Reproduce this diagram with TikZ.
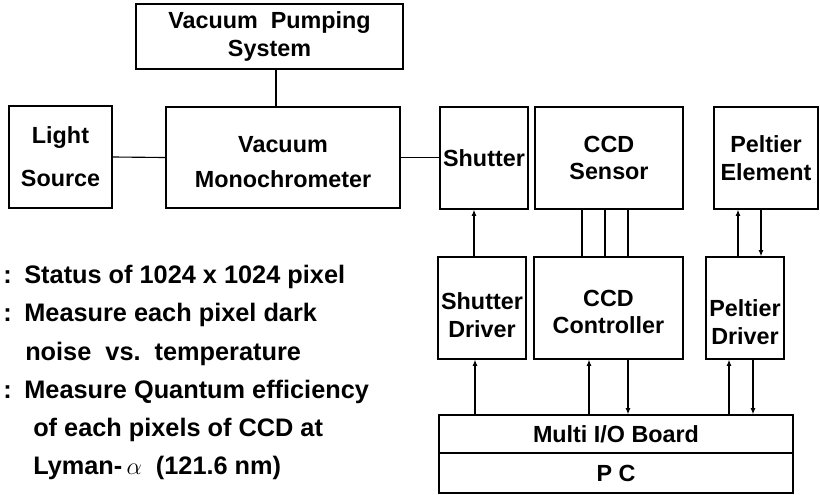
\documentclass[tikz,border=0pt]{standalone}
\usepackage{fontspec}
\setmainfont{Liberation Sans}
\usetikzlibrary{arrows.meta}
\tikzset{
  %% Plain block
  blk/.style={
    rectangle, draw=black, line width=0.9pt,
    align=center, inner sep=0pt,
    font=\fontsize{16.6}{19.5}\selectfont\bfseries
  },
  %% Plain link
  link/.style={draw=black, line width=0.8pt},
  %% Signal arrow
  arr/.style={-{Latex[length=4.5pt,width=3.6pt]},
              draw=black, line width=0.8pt},
  %% Side note line
  note/.style={anchor=base west, inner sep=0pt,
    font=\fontsize{18}{22}\selectfont\bfseries},
}
\newcommand{\lead}{:\hspace{9pt}}

\begin{document}
\begin{tikzpicture}[x=0.025cm, y=-0.025cm]
  \useasboundingbox (0,0) rectangle (820,494);

  %% Optical path
  \node[blk, minimum width=6.675cm, minimum height=1.625cm] (pump) at (269.5,36.5)
       {Vacuum\ \ Pumping\\System};
  \node[blk, minimum width=2.575cm, minimum height=2.55cm]  (light) at (60.5,157)
       {Light\\[11pt]Source};
  \node[blk, minimum width=5.85cm, minimum height=2.525cm]  (mono) at (283,157.5)
       {\rule{0pt}{18pt}Vacuum\\[6pt]Monochrometer};
  \node[blk, minimum width=2.2cm, minimum height=2.55cm]    (shutter) at (484,158)
       {Shutter};
  \node[blk, minimum width=3.7cm, minimum height=2.55cm]    (sensor) at (609,158)
       {CCD\\Sensor};
  \node[blk, minimum width=2.6cm, minimum height=2.55cm]    (peltier) at (766,158)
       {Peltier\\Element};

  %% Drivers
  \node[blk, minimum width=2.2cm, minimum height=2.55cm]    (sdrv) at (482,308)
       {\rule{0pt}{22pt}Shutter\\Driver};
  \node[blk, minimum width=3.725cm, minimum height=2.55cm]  (ctrl) at (608.5,308)
       {\rule{0pt}{17pt}CCD\\Controller};
  \node[blk, minimum width=1.95cm, minimum height=2.55cm]   (pdrv) at (745,308)
       {\rule{0pt}{32pt}Peltier\\Driver};

  %% Computer
  \node[blk, minimum width=8.85cm, minimum height=0.95cm]   (board) at (616,434)
       {Multi I/O Board};
  \node[blk, minimum width=8.85cm, minimum height=1cm]      (pc) at (616,473)
       {P C};

  %% Links
  \draw[link] (pump.south -| 276,0) -- (mono.north -| 276,0);
  \draw[link] (light.east) -- (mono.west);
  \draw[link] (mono.east) -- (mono.east -| shutter.west);
  \foreach \px in {582,605,628}
    \draw[link] (sensor.south -| \px,0) -- (ctrl.north -| \px,0);

  %% Arrows
  \draw[arr] (sdrv.north -| 474,0) -- (shutter.south -| 474,0);
  \draw[arr] (pdrv.north -| 738,0) -- (peltier.south -| 738,0);
  \draw[arr] (peltier.south -| 761,0) -- (pdrv.north -| 761,0);
  \draw[arr] (board.north -| 475,0) -- (sdrv.south -| 475,0);
  \draw[arr] (board.north -| 589,0) -- (ctrl.south -| 589,0);
  \draw[arr] (ctrl.south -| 628,0) -- (board.north -| 628,0);
  \draw[arr] (board.north -| 729,0) -- (pdrv.south -| 729,0);
  \draw[arr] (pdrv.south -| 753,0) -- (board.north -| 753,0);

  %% Notes
  \node[note] (n1) at (3,283)  {\lead Status of 1024 x 1024 pixel};
  \node[note] (n2) at (3,321)  {\lead Measure each pixel dark};
  \node[note] (n3) at (25,360) {noise\ \ vs.\ \ temperature};
  \node[note] (n4) at (3,398)  {\lead Measure Quantum efficiency};
  \node[note] (n5) at (33,436) {of each pixels of CCD at};
  \node[note] (n6) at (33,474) {Lyman-\,$\alpha$\ \ (121.6 nm)};

\end{tikzpicture}
\end{document}
